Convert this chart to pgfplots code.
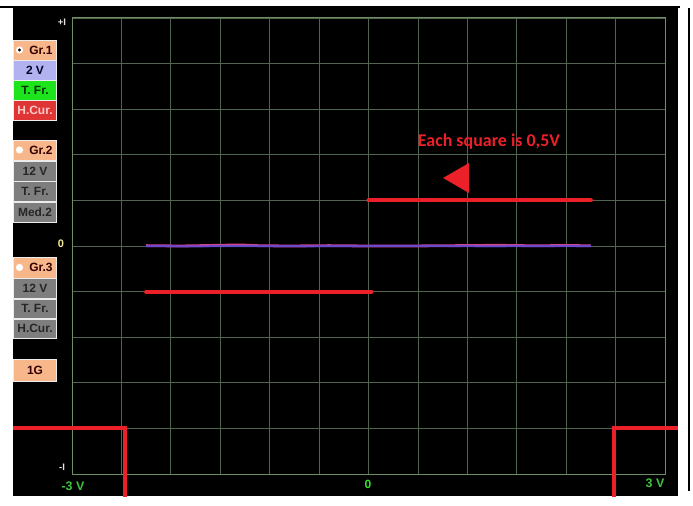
\documentclass[border=0pt]{standalone}
\usepackage{pgfplots}
\pgfplotsset{compat=1.18}
\usepackage{fontspec}
\setmainfont{Liberation Sans}
\newfontfamily\carlito{Carlito}
\definecolor{gridc}{HTML}{506450}
\definecolor{axisc}{HTML}{6E8E64}
\definecolor{sigred}{HTML}{EC2028}
\definecolor{peach}{HTML}{F7B78A}
\definecolor{lav}{HTML}{B2B2F0}
\definecolor{bgreen}{HTML}{1EE41E}
\definecolor{bred}{HTML}{DF3535}
\definecolor{bgray}{HTML}{7E7E7E}
\definecolor{ticg}{HTML}{3EC43E}
\definecolor{pinkc}{HTML}{D04488}
\definecolor{bluec}{HTML}{4C4CE8}
\newcommand{\btnfont}{\bfseries\fontsize{12}{12}\selectfont}
\newcommand{\btn}[6]{%
  \fill[#3] (13,#1) rectangle (57,#2);
  \draw[white!85!gray, line width=0.7bp] (13.4,#1) rectangle (56.6,#2);
  \node[text=#4, font=\btnfont, inner sep=0] at ({#6},{(#1+#2)/2}) {#5};}
\begin{document}
\begin{tikzpicture}
\begin{scope}[x=1bp, y=-1bp, shift={(-72bp,474bp)}]
  \fill[white] (0,0) rectangle (693,506);
  \fill[black] (13,8) rectangle (678,496);
  \draw[black, line width=1.5bp] (0,7) -- (680,7);
  \draw[black, line width=2bp] (689,8) -- (689,491);
\end{scope}
\begin{axis}[
  at={(0,0)}, anchor=south west,
  scale only axis, width=593bp, height=456bp,
  xmin=-3, xmax=3, ymin=-2.5, ymax=2.5,
  xtick={-3,-2.5,-2,-1.5,-1,-0.5,0,0.5,1,1.5,2,2.5,3},
  ytick={-2.5,-2,-1.5,-1,-0.5,0,0.5,1,1.5,2,2.5},
  xticklabels={}, yticklabels={},
  major tick length=0pt,
  grid=major,
  grid style={color=gridc, line width=0.7bp},
  axis line style={color=axisc, line width=1bp},
  clip=false,
]
% measured signal channels
\addplot[pinkc, line width=2.8bp] coordinates {
  (-2.25,0.004) (-1.9,0.0) (-1.6,0.006) (-1.3,0.012) (-1.1,0.003)
  (-0.8,0.0) (-0.4,0.004) (0.0,0.0) (0.4,0.0) (0.9,0.004)
  (1.3,0.008) (1.7,0.002) (2.0,0.006) (2.25,0.002)};
\addplot[bluec, line width=2bp, opacity=0.75] coordinates {
  (-2.25,0.0) (-1.8,-0.004) (-1.2,0.0) (-0.6,-0.003) (0.0,0.0)
  (0.6,0.002) (1.2,-0.004) (1.8,0.0) (2.25,0.0)};
% red annotation levels
\addplot[sigred, line width=4bp, line cap=round] coordinates {(0,0.5) (2.25,0.5)};
\addplot[sigred, line width=4bp, line cap=round] coordinates {(-2.25,-0.5) (0.03,-0.5)};
% red triangle marker
\addplot[fill=sigred, draw=none] coordinates {(0.754,0.746) (1.017,0.910) (1.017,0.581)} -- cycle;
% red step edges at the bottom
\addplot[sigred, line width=4bp] coordinates {(-3.597,-2.0) (-2.464,-2.0) (-2.464,-2.755)};
\addplot[sigred, line width=4bp] coordinates {(2.484,-2.755) (2.484,-2.0) (3.132,-2.0)};
\node[text=sigred, font=\carlito\bfseries\fontsize{18}{18}\selectfont] at (axis cs:1.219,1.14) {Each square is 0,5V};
\end{axis}
\pgfresetboundingbox
\begin{scope}[x=1bp, y=-1bp, shift={(-72bp,474bp)}]
  \path (0,0) rectangle (693,506);
  % group 1
  \btn{40}{60}{peach}{black!80!red}{Gr.1}{41}
  \btn{60}{80}{lav}{black!85!blue}{2 V}{35}
  \btn{80}{100}{bgreen}{black!80!green}{T. Fr.}{35}
  \btn{100}{120}{bred}{red!20!white}{H.Cur.}{35}
  % group 2
  \btn{140}{160}{peach}{black!80!red}{Gr.2}{41}
  \btn{161}{181}{bgray}{black!85}{12 V}{35}
  \btn{181}{201}{bgray}{black!85}{T. Fr.}{35}
  \btn{202}{222}{bgray}{black!85}{Med.2}{35}
  % group 3
  \btn{257}{278}{peach}{black!80!red}{Gr.3}{41}
  \btn{278}{298}{bgray}{black!85}{12 V}{35}
  \btn{299}{318}{bgray}{black!85}{T. Fr.}{35}
  \btn{319}{338}{bgray}{black!85}{H.Cur.}{35}
  % 1G
  \btn{359}{381}{peach}{black!80!red}{1G}{35}
  % radio buttons
  \fill[white] (19.5,50) circle[radius=3.6bp];
  \fill[black] (19.5,50) circle[radius=1.6bp];
  \fill[white] (19.5,150) circle[radius=3.6bp];
  \fill[white] (19.5,267.5) circle[radius=3.6bp];
  % y labels
  \node[text=white!80!gray, font=\bfseries\fontsize{9.5}{9.5}\selectfont, inner sep=0] at (62,22) {+I};
  \node[text=yellow!40!white!90!gray, font=\bfseries\fontsize{11}{11}\selectfont, inner sep=0] at (61,244) {0};
  \node[text=white!80!gray, font=\bfseries\fontsize{9.5}{9.5}\selectfont, inner sep=0] at (62,467) {-I};
  % x labels
  \node[text=ticg, font=\bfseries\fontsize{12.5}{12.5}\selectfont, inner sep=0] at (73,486) {-3 V};
  \node[text=green!80!white!90!black, font=\bfseries\fontsize{12}{12}\selectfont, inner sep=0] at (368,484) {0};
  \node[text=ticg, font=\bfseries\fontsize{12.5}{12.5}\selectfont, inner sep=0] at (655,483) {3 V};
\end{scope}
\end{tikzpicture}
\end{document}
